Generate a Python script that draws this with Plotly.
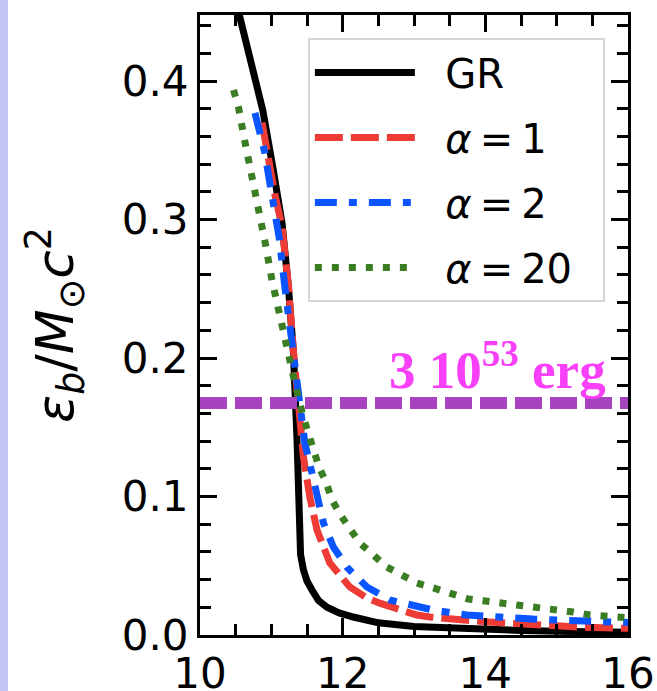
import plotly.graph_objects as go

# ---- data ----
gr_x = [10.55, 10.70, 10.88, 11.02, 11.15, 11.24, 11.31, 11.36, 11.38, 11.41, 11.45, 11.50,
        11.57, 11.66, 11.78, 11.95, 12.15, 12.34, 12.5, 13.0, 13.7, 14.5, 15.2, 16.0]
gr_y = [0.448, 0.415, 0.379, 0.338, 0.2975, 0.251, 0.2036, 0.141, 0.0758, 0.058, 0.047, 0.039,
        0.0325, 0.025, 0.020, 0.016, 0.013, 0.0105, 0.0088, 0.0062, 0.0044, 0.0033, 0.0026, 0.002]

a1_x = [10.87, 10.95, 11.05, 11.15, 11.24, 11.31, 11.40, 11.45, 11.54, 11.64, 11.82, 12.1,
        12.34, 12.52, 13.04, 13.22, 14.0, 14.67, 15.3, 16.0]
a1_y = [0.370, 0.345, 0.318, 0.295, 0.252, 0.205, 0.150, 0.1285, 0.0997, 0.0758, 0.052, 0.0347,
        0.0267, 0.023, 0.0144, 0.013, 0.0095, 0.0072, 0.0058, 0.0048]

a2_x = [10.77, 10.84, 10.91, 10.98, 11.04, 11.11, 11.19, 11.24, 11.33, 11.43, 11.47, 11.57,
        11.64, 11.73, 11.87, 12.06, 12.34, 12.66, 13.27, 13.74, 14.67, 15.5, 16.0]
a2_y = [0.377, 0.362, 0.348, 0.326, 0.307, 0.287, 0.251, 0.232, 0.196, 0.155, 0.1386, 0.117,
        0.0997, 0.081, 0.0635, 0.049, 0.0347, 0.0253, 0.018, 0.0144, 0.0115, 0.0098, 0.009]

a20_x = [10.47, 10.54, 10.63, 10.73, 10.83, 10.92, 11.01, 11.11, 11.21, 11.33, 11.45, 11.53,
         11.59, 11.67, 11.77, 11.85, 11.97, 12.1, 12.24, 12.43, 12.62, 12.83, 13.04, 13.27,
         13.52, 13.76, 14.0, 14.25, 14.49, 14.72, 14.98, 15.23, 15.47, 15.7, 16.0]
a20_y = [0.3935, 0.381, 0.356, 0.332, 0.307, 0.2816, 0.256, 0.231, 0.207, 0.182, 0.157, 0.145,
         0.1336, 0.121, 0.110, 0.0975, 0.0866, 0.0758, 0.0664, 0.0578, 0.049, 0.0433, 0.0375, 0.034,
         0.0296, 0.026, 0.0245, 0.023, 0.021, 0.0195, 0.018, 0.0166, 0.0144, 0.0137, 0.0125]

e_line = 0.1676          # 3e53 erg in units of Msun c^2
x_range = [10, 16]
y_range = [0, 0.4477]
x_ticks = [10, 12, 14, 16]
y_ticks = [0.0, 0.1, 0.2, 0.3, 0.4]
y_ticklabels = ["0.0", "0.1", "0.2", "0.3", "0.4"]

NB = "\u00a0"
names = [NB * 2 + "GR", NB * 2 + "<i>α</i>\u2009=\u20091", NB * 2 + "<i>α</i>\u2009=\u20092",
         NB * 2 + "<i>α</i>\u2009=\u200920" + NB * 2]

LW = 7
fig = go.Figure()
styles = [dict(color="black", width=LW),
          dict(color="#ee3b36", width=LW, dash="28px,8px"),
          dict(color="#0a55ff", width=LW, dash="22px,12px,8px,12px"),
          dict(color="#3a7d22", width=LW, dash="7px,10px")]
series = [(gr_x, gr_y), (a1_x, a1_y), (a2_x, a2_y), (a20_x, a20_y)]
for i, ((xs, ys), st) in enumerate(zip(series, styles)):
    fig.add_trace(go.Scatter(x=xs, y=ys, mode="lines", name=names[i], legendgroup=f"g{i}",
                             line=st))
fig.add_trace(go.Scatter(x=x_range, y=[e_line, e_line], mode="lines", showlegend=False,
                         line=dict(color="#a843c0", width=12, dash="27px,8px")))

fig.add_annotation(x=15.72, y=0.194, xref="x", yref="y", xanchor="right", yanchor="middle",
                   text="<b>3 10<sup>53</sup> erg</b>", showarrow=False,
                   font=dict(family="Liberation Serif", size=53, color="#f940f9"))

# screenshot edge strip
fig.add_shape(type="rect", xref="paper", yref="paper", x0=-0.4673, x1=-0.4486, y0=-0.1, y1=1.03,
              fillcolor="#c3c6f2", line=dict(width=0), layer="below")

axis_common = dict(showline=True, linecolor="black", linewidth=3, mirror="allticks",
                   ticks="inside", ticklen=17, tickwidth=3, tickcolor="black",
                   showgrid=False, zeroline=False, automargin=False,
                   tickfont=dict(family="DejaVu Sans", size=42, color="black"))

fig.update_xaxes(range=x_range, tickvals=x_ticks, **axis_common,
                 minor=dict(ticks="inside", ticklen=11, tickwidth=2.5, tickcolor="black", dtick=0.5,
                            showgrid=False))
fig.update_yaxes(range=y_range, tickvals=y_ticks, ticktext=y_ticklabels, **axis_common,
                 minor=dict(ticks="inside", ticklen=11, tickwidth=2.5, tickcolor="black", dtick=0.02,
                            showgrid=False),
                 title=dict(text="<i>ε</i><sub><i>b</i></sub>/<i>M</i><sub>⊙</sub><i>c</i><sup>2</sup>",
                            font=dict(family="DejaVu Sans", size=52, color="black"), standoff=32))

fig.update_layout(
    width=657, height=691,
    margin=dict(l=200, r=29, t=15, b=56, autoexpand=False),
    paper_bgcolor="white", plot_bgcolor="white",
    legend=dict(x=0.252, y=0.963, xanchor="left", yanchor="top",
                bgcolor="white", bordercolor="#d6d6d6", borderwidth=2,
                font=dict(family="DejaVu Sans", size=40, color="black"),
                itemwidth=100, tracegroupgap=10),
    showlegend=True,
)

fig.write_html("out.html", config={"displayModeBar": False},
               post_script="document.body.style.margin='0';document.body.style.overflow='hidden';")
